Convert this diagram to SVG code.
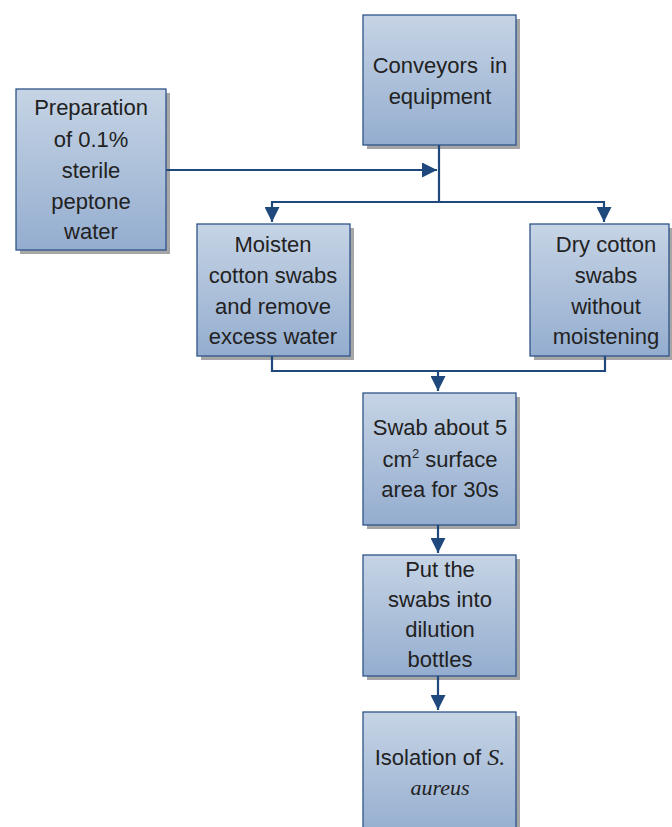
<svg xmlns="http://www.w3.org/2000/svg" width="672" height="827" viewBox="0 0 672 827">
<defs>
<linearGradient id="g" x1="0" y1="0" x2="0" y2="1">
<stop offset="0" stop-color="#c6d4e5"/>
<stop offset="1" stop-color="#94adcf"/>
</linearGradient>
<marker id="a" viewBox="0 0 12 12" refX="12" refY="6" markerWidth="15" markerHeight="15" markerUnits="userSpaceOnUse" orient="auto">
<path d="M0,0 L12,6 L0,12 z" fill="#1f497d"/>
</marker>
</defs>
<style>
.box{fill:url(#g);stroke:#2e5489;stroke-width:1.3}
.sh{fill:#a6a6a6}
.t{font-family:"Liberation Sans",Arial,sans-serif;font-size:22px;fill:#222;text-anchor:middle}
.it{font-family:"Liberation Serif","Times New Roman",serif;font-style:italic}
.c{fill:none;stroke:#1f497d;stroke-width:2.2}
</style>
<rect width="672" height="827" fill="#fff"/>

<g id="conveyors">
<rect class="sh" x="367" y="19" width="153" height="130"/>
<rect class="box" x="363" y="15" width="153" height="130"/>
<text class="t" x="440" y="73">Conveyors&#160; in</text>
<text class="t" x="440" y="104">equipment</text>
</g>

<g id="preparation">
<rect class="sh" x="20" y="93" width="150" height="161"/>
<rect class="box" x="16" y="89" width="150" height="161"/>
<text class="t" x="91" y="115">Preparation</text>
<text class="t" x="91" y="147">of 0.1%</text>
<text class="t" x="91" y="178">sterile</text>
<text class="t" x="91" y="209">peptone</text>
<text class="t" x="91" y="239">water</text>
</g>

<g id="moisten">
<rect class="sh" x="201" y="228" width="153" height="132"/>
<rect class="box" x="197" y="224" width="153" height="132"/>
<text class="t" x="273" y="252">Moisten</text>
<text class="t" x="273" y="283">cotton swabs</text>
<text class="t" x="273" y="314">and remove</text>
<text class="t" x="273" y="344">excess water</text>
</g>

<g id="dry">
<rect class="sh" x="534" y="228" width="140" height="132"/>
<rect class="box" x="530" y="224" width="139" height="132"/>
<text class="t" x="606" y="252">Dry cotton</text>
<text class="t" x="606" y="283">swabs</text>
<text class="t" x="606" y="314">without</text>
<text class="t" x="606" y="344">moistening</text>
</g>

<g id="swab">
<rect class="sh" x="367" y="397" width="153" height="132"/>
<rect class="box" x="363" y="393" width="153" height="132"/>
<text class="t" x="440" y="435">Swab about 5</text>
<text class="t" x="440" y="467">cm<tspan font-size="13" dy="-9">2</tspan><tspan dy="9"> surface</tspan></text>
<text class="t" x="440" y="497">area for 30s</text>
</g>

<g id="put">
<rect class="sh" x="367" y="559" width="153" height="121"/>
<rect class="box" x="363" y="555" width="153" height="121"/>
<text class="t" x="440" y="577">Put the</text>
<text class="t" x="440" y="607">swabs into</text>
<text class="t" x="440" y="637">dilution</text>
<text class="t" x="440" y="667">bottles</text>
</g>

<g id="isolation">
<rect class="sh" x="367" y="716" width="153" height="120"/>
<rect class="box" x="363" y="712" width="153" height="125"/>
<text class="t" x="440" y="765">Isolation of <tspan class="it" font-size="24">S.</tspan></text>
<text class="t it" x="440" y="795" font-size="24">aureus</text>
</g>

<g id="connectors">
<path class="c" d="M166,170 H437" marker-end="url(#a)"/>
<path class="c" d="M439,145 V202"/>
<path class="c" d="M439,202 H272 V222" marker-end="url(#a)"/>
<path class="c" d="M439,202 H604 V222" marker-end="url(#a)"/>
<path class="c" d="M272,356 V371 H605 V356"/>
<path class="c" d="M438,371 V391" marker-end="url(#a)"/>
<path class="c" d="M438,525 V553" marker-end="url(#a)"/>
<path class="c" d="M438,676 V710" marker-end="url(#a)"/>
</g>
</svg>
